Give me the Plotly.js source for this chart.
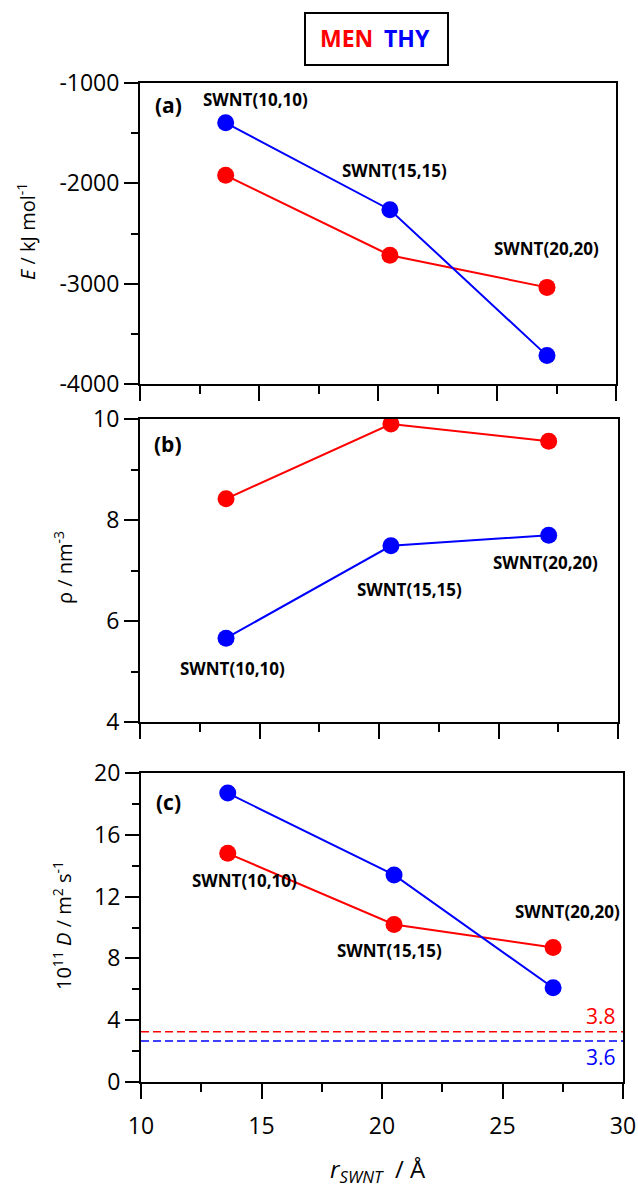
<!DOCTYPE html>
<html>
<head>
<meta charset="utf-8">
<script src="https://cdn.plot.ly/plotly-3.0.1.min.js"></script>
<style>html,body{margin:0;padding:0;background:#fff;}#chart{width:638px;height:1189px;}</style>
</head>
<body>
<div id="chart"></div>
<script>
// ---- data ----
const rSWNT = [13.6, 20.5, 27.1];
const tubeLabels = ["SWNT(10,10)", "SWNT(15,15)", "SWNT(20,20)"];
const E_MEN = [-1920, -2717, -3037];
const E_THY = [-1397, -2263, -3717];
const rho_MEN = [8.42, 9.90, 9.56];
const rho_THY = [5.66, 7.49, 7.70];
const D_MEN = [14.8, 10.2, 8.7];
const D_THY = [18.7, 13.4, 6.1];
const bulkD_MEN = 3.25, bulkD_THY = 2.65;
const bulkLabels = ["3.8", "3.6"];
const xRange = [10, 30];
const E_ticks = [-4000, -3000, -2000, -1000];
const E_tickText = ["-4000", "-3000", "-2000", "-1000"];

const RED = "#ff0000", BLUE = "#0000ff";
const FONT = "Open Sans, sans-serif";

function series(x, y, color, xa, ya) {
  return {x: x, y: y, xaxis: xa, yaxis: ya, type: "scatter", mode: "lines+markers",
    line: {color: color, width: 2}, marker: {color: color, size: 17}, showlegend: false, hoverinfo: "skip"};
}
function hline(val, color, xa, ya) {
  return {x: xRange, y: [val, val], xaxis: xa, yaxis: ya, type: "scatter", mode: "lines",
    line: {color: color, width: 1.5, dash: "8px,4px"}, showlegend: false, hoverinfo: "skip"};
}

const data = [
  series(rSWNT, E_MEN, RED, "x", "y"),
  series(rSWNT, E_THY, BLUE, "x", "y"),
  series(rSWNT, rho_MEN, RED, "x2", "y2"),
  series(rSWNT, rho_THY, BLUE, "x2", "y2"),
  hline(bulkD_MEN, RED, "x3", "y3"),
  hline(bulkD_THY, BLUE, "x3", "y3"),
  series(rSWNT, D_MEN, RED, "x3", "y3"),
  series(rSWNT, D_THY, BLUE, "x3", "y3")
];

function xax(domain, anchor, labels) {
  return {domain: domain, anchor: anchor, range: xRange, dtick: 5, tick0: 10,
    ticks: "outside", ticklen: 15, tickwidth: 2, tickcolor: "#000",
    minor: {dtick: 2.5, ticks: "outside", ticklen: 8, tickwidth: 2, tickcolor: "#000"},
    showline: true, linewidth: 2, linecolor: "#000", mirror: true,
    showgrid: false, zeroline: false, showticklabels: labels, ticklabelstandoff: 7,
    tickfont: {family: FONT, size: 23, color: "#000"}};
}
function yax(domain, anchor, range, dtick, minorDtick) {
  return {domain: domain, anchor: anchor, range: range, dtick: dtick,
    ticks: "outside", ticklen: 14, tickwidth: 2, tickcolor: "#000",
    minor: {dtick: minorDtick, ticks: "outside", ticklen: 7, tickwidth: 2, tickcolor: "#000"},
    showline: true, linewidth: 2, linecolor: "#000", mirror: true,
    showgrid: false, zeroline: false,
    tickfont: {family: FONT, size: 23, color: "#000"}};
}

const W = 638, H = 1189;
const px = v => v / W, py = v => 1 - v / H;

const annotations = [];
function lab(text, x, y, xa, ya, xs, ys) {
  annotations.push({text: text, x: x, y: y, xref: xa, yref: ya,
    xanchor: "center", yanchor: "middle",
    xshift: xs, yshift: ys, showarrow: false, font: {family: FONT, size: 17, color: "#000", weight: "bold"}});
}
function paperText(text, x, y, size, color, angle, xanchor, weight) {
  annotations.push({text: text, xref: "paper", yref: "paper", x: px(x), y: py(y),
    xanchor: xanchor || "center", yanchor: "middle", textangle: angle || 0,
    showarrow: false, font: {family: FONT, size: size, color: color, weight: weight || "normal"}});
}
// panel (a) labels
lab(tubeLabels[0], rSWNT[0], E_THY[0], "x", "y", 30, 23);
lab(tubeLabels[1], rSWNT[1], E_THY[1], "x", "y", 5, 39);
lab(tubeLabels[2], rSWNT[2], E_MEN[2], "x", "y", 0, 39);
// panel (b) labels
lab(tubeLabels[0], rSWNT[0], rho_THY[0], "x2", "y2", 6, -30);
lab(tubeLabels[1], rSWNT[1], rho_THY[1], "x2", "y2", 19, -44);
lab(tubeLabels[2], rSWNT[2], rho_THY[2], "x2", "y2", -3, -27);
// panel (c) labels
lab(tubeLabels[0], rSWNT[0], D_MEN[0], "x3", "y3", 17, -27);
lab(tubeLabels[1], rSWNT[1], D_MEN[1], "x3", "y3", -5, -26);
lab(tubeLabels[2], rSWNT[2], D_MEN[2], "x3", "y3", 14, 36);

// panel letters
paperText("(a)", 168, 105, 21, "#000", 0, "center", "bold");
paperText("(b)", 168, 444, 21, "#000", 0, "center", "bold");
paperText("(c)", 168, 802, 21, "#000", 0, "center", "bold");

// bulk values
annotations.push({text: bulkLabels[0], x: 30, y: bulkD_MEN, xref: "x3", yref: "y3", xanchor: "right",
  yanchor: "bottom", xshift: -5, yshift: 0, showarrow: false, font: {family: FONT, size: 21, color: RED}});
annotations.push({text: bulkLabels[1], x: 30, y: bulkD_THY, xref: "x3", yref: "y3", xanchor: "right",
  yanchor: "top", xshift: -5, yshift: 0, showarrow: false, font: {family: FONT, size: 21, color: BLUE}});

// axis titles
paperText("<i>E</i> / kJ mol<sup>-1</sup>", 27, 232, 20, "#000", -90);
paperText("ρ / nm<sup>-3</sup>", 64, 568, 20, "#000", -90);
paperText("10<sup>11</sup> <i>D</i> / m<sup>2</sup> s<sup>-1</sup>", 62, 925, 20, "#000", -90);
paperText("<i>r<sub>SWNT</sub></i>&nbsp;&nbsp;/ Å", 378, 1170, 24, "#000");

// legend box
paperText("MEN", 375, 38, 23, RED, 0, "right", "bold");
paperText("THY", 382, 38, 23, BLUE, 0, "left", "bold");
const shapes = [{type: "rect", xref: "paper", yref: "paper", x0: px(305), x1: px(448), y0: py(65), y1: py(13),
  line: {color: "#000", width: 2}}];

const yaxisA = yax([py(384), py(83)], "x", [-4000, -1000], 1000, 500);
yaxisA.tickmode = "array"; yaxisA.tickvals = E_ticks; yaxisA.ticktext = E_tickText;

const layout = {
  width: W, height: H, margin: {l: 0, r: 0, t: 0, b: 0},
  paper_bgcolor: "#fff", plot_bgcolor: "#fff",
  xaxis: xax([px(140), px(616)], "y", false),
  yaxis: yaxisA,
  xaxis2: xax([px(140), px(618)], "y2", false),
  yaxis2: yax([py(722), py(419)], "x2", [4, 10], 2, 1),
  xaxis3: xax([px(141), px(623)], "y3", true),
  yaxis3: yax([py(1082), py(773)], "x3", [0, 20], 4, 2),
  annotations: annotations, shapes: shapes
};

Plotly.newPlot("chart", data, layout, {staticPlot: true});
</script>
</body>
</html>
